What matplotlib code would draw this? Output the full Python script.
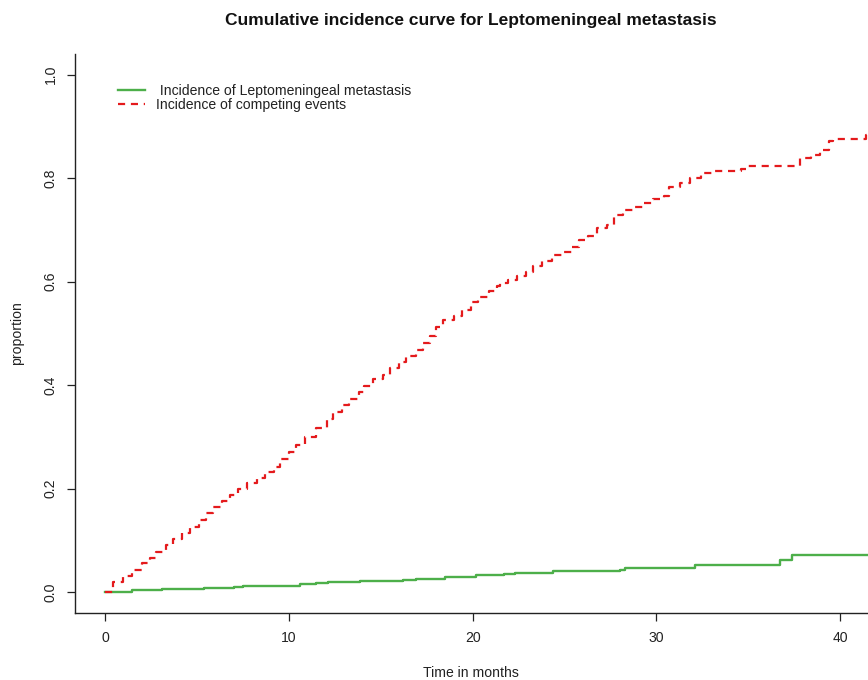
import matplotlib
matplotlib.use("Agg")
import matplotlib.pyplot as plt

plt.rcParams['font.family'] = ['Liberation Sans', 'DejaVu Sans']

# ---- data ----
competing_t = [0, 0.45, 1.0, 1.45, 2.0, 2.45, 2.8, 3.3, 3.7, 4.2, 4.6, 5.1, 5.5, 5.9,
               6.35, 6.8, 7.25, 7.7, 8.25, 8.7, 9.2, 9.5, 10.0, 10.4, 10.9, 11.5, 12.1,
               12.4, 12.9, 13.3, 13.8, 14.1, 14.6, 15.1, 15.5, 16.0, 16.4, 16.9, 17.3,
               17.7, 18.0, 18.4, 19.0, 19.4, 19.9, 20.3, 20.9, 21.3, 21.5, 21.9, 22.4,
               22.9, 23.3, 23.8, 24.3, 24.9, 25.4, 25.8, 26.3, 26.75, 27.3, 27.7, 28.2,
               28.8, 29.3, 29.8, 30.4, 30.7, 31.3, 31.8, 32.4, 33.1, 34.6, 34.9, 37.8,
               38.4, 38.9, 39.4, 39.6, 41.4, 41.6]
competing_p = [0, 0.02, 0.03, 0.043, 0.056, 0.065, 0.078, 0.09, 0.102, 0.114, 0.126, 0.139,
               0.153, 0.165, 0.176, 0.188, 0.2, 0.21, 0.22, 0.231, 0.242, 0.257, 0.271,
               0.284, 0.3, 0.317, 0.334, 0.347, 0.362, 0.373, 0.387, 0.399, 0.411, 0.42,
               0.433, 0.445, 0.456, 0.467, 0.481, 0.495, 0.512, 0.525, 0.534, 0.545, 0.56,
               0.57, 0.581, 0.592, 0.598, 0.603, 0.61, 0.618, 0.629, 0.639, 0.651, 0.657,
               0.666, 0.681, 0.687, 0.703, 0.71, 0.729, 0.738, 0.744, 0.752, 0.76, 0.766,
               0.782, 0.79, 0.8, 0.81, 0.814, 0.818, 0.823, 0.839, 0.845, 0.855, 0.871,
               0.876, 0.884, 0.884]

lm_t = [0, 1.45, 3.1, 5.4, 7.0, 7.5, 10.6, 11.5, 12.15, 13.9, 16.2, 16.9, 18.5, 20.2,
        21.7, 22.3, 24.4, 28.0, 28.3, 32.1, 36.7, 37.35, 41.6]
lm_p = [0, 0.004, 0.006, 0.007, 0.009, 0.012, 0.0155, 0.017, 0.019, 0.021, 0.023, 0.026,
        0.029, 0.032, 0.035, 0.037, 0.040, 0.043, 0.046, 0.052, 0.061, 0.072, 0.072]

x_ticks = [0, 10, 20, 30, 40]
y_ticks = [0.0, 0.2, 0.4, 0.6, 0.8, 1.0]

labels = [" Incidence of Leptomeningeal metastasis", "Incidence of competing events"]
title = "Cumulative incidence curve for Leptomeningeal metastasis"

GREEN = "#4DAF4A"
RED = "#E41A1C"
FS = 10.1

W, H = 868, 680
fig = plt.figure(figsize=(W / 100, H / 100), dpi=100)
# axes region in pixels: left 75, right 868, top 53.8, bottom 612.7
ax = fig.add_axes([75 / W, 1 - 612.7 / H, (868 - 75) / W, (612.7 - 53.8) / H])

ln1, = ax.step(lm_t, lm_p, where='post', color=GREEN, lw=1.7, label=labels[0])
ln2, = ax.step(competing_t, competing_p, where='post', color=RED, lw=1.6,
               dashes=(3.2, 2.6), label=labels[1])

ax.set_xlim(-1.632, 41.51)
ax.set_ylim(-0.04, 1.04)
ax.set_xticks(x_ticks)
ax.set_xticklabels([str(v) for v in x_ticks])
ax.set_yticks(y_ticks)
ax.set_yticklabels([f"{v:.1f}" for v in y_ticks], rotation=90, va='center')

for s in ['top', 'right']:
    ax.spines[s].set_visible(False)
for s in ['left', 'bottom']:
    ax.spines[s].set_linewidth(1.0)
    ax.spines[s].set_color('#222222')

ax.tick_params(axis='both', direction='out', length=5.5, width=0.9, colors='#222222',
               labelsize=FS, labelcolor='#222222')
ax.tick_params(axis='x', pad=8)
ax.tick_params(axis='y', pad=7)

fig.text(471 / W, 1 - 673 / H, "Time in months", ha='center', va='center',
         fontsize=FS, color='#222222')
fig.text(17 / W, 1 - 333 / H, "proportion", ha='center', va='center', rotation=90,
         fontsize=FS, color='#222222')
fig.text(471 / W, 1 - 20 / H, title, ha='center', va='center', fontsize=12.5,
         fontweight='bold', color='#111111')

leg = ax.legend(handles=[ln1, ln2], loc='upper left',
                bbox_to_anchor=(118 / W, 1 - 84 / H), bbox_transform=fig.transFigure,
                frameon=False, fontsize=FS, handlelength=1.9, handletextpad=0.78,
                labelspacing=0.02, borderpad=0, borderaxespad=0)
for t in leg.get_texts():
    t.set_color('#222222')

fig.savefig("out.png", dpi=100)
